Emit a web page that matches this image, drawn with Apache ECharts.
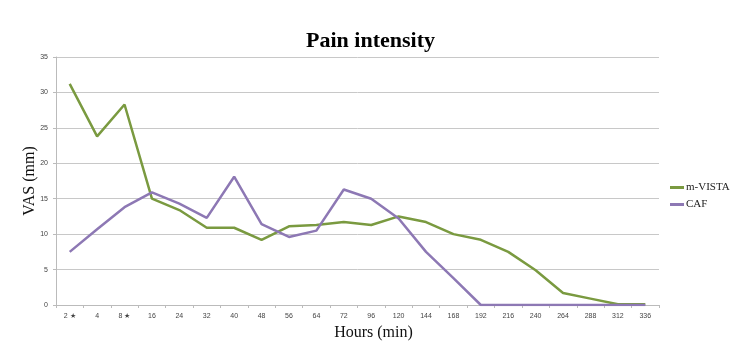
<!DOCTYPE html>
<html>
<head>
<meta charset="utf-8">
<script src="https://cdn.jsdelivr.net/npm/echarts@6/dist/echarts.min.js"></script>
<style>
html, body { margin: 0; padding: 0; background: #fff; }
#chart { width: 741px; height: 363px; }
</style>
</head>
<body>
<div id="chart"></div>
<script type="text/javascript">
var hours = ['2 ★', '4', '8 ★', '16', '24', '32', '40', '48', '56', '64', '72', '96',
             '120', '144', '168', '192', '216', '240', '264', '288', '312', '336'];
var vista = [31.2, 23.8, 28.3, 15.0, 13.4, 10.9, 10.9, 9.2, 11.1, 11.3, 11.7, 11.3,
             12.5, 11.7, 10.0, 9.2, 7.5, 4.9, 1.7, 0.9, 0.1, 0.1];
var caf = [7.5, 10.7, 13.8, 15.9, 14.3, 12.3, 18.1, 11.4, 9.6, 10.5, 16.3, 15.0,
           12.2, 7.5, 3.8, 0, 0, 0, 0, 0, 0, 0];

var myChart = echarts.init(document.getElementById('chart'), null, {renderer: 'canvas'});
var option = {
    backgroundColor: '#fff',
    animation: false,
    title: {
        text: 'Pain intensity',
        left: 'center',
        top: 25,
        textStyle: {
            fontFamily: 'Liberation Serif',
            fontWeight: 'bold',
            fontSize: 22,
            color: '#000'
        }
    },
    legend: {
        orient: 'vertical',
        left: 665,
        top: 177,
        itemWidth: 14,
        itemHeight: 3,
        itemGap: 6,
        icon: 'rect',
        textStyle: { fontFamily: 'Liberation Serif', fontSize: 11, color: '#222', padding: [0, 0, 0, -3] },
        data: ['m-VISTA', 'CAF']
    },
    grid: { left: 56, right: 82, top: 57, bottom: 58 },
    xAxis: {
        type: 'category',
        data: hours,
        boundaryGap: true,
        name: 'Hours (min)',
        nameLocation: 'middle',
        nameGap: 20,
        nameTextStyle: { fontFamily: 'Liberation Serif', fontSize: 16, color: '#111', padding: [0, 0, 0, 32] },
        axisLine: { lineStyle: { color: '#bbb' } },
        axisTick: { show: true, length: 3, lineStyle: { color: '#bbb' } },
        axisLabel: { fontSize: 7, color: '#444', margin: 8, interval: 0 }
    },
    yAxis: {
        type: 'value',
        min: 0,
        max: 35,
        interval: 5,
        name: 'VAS (mm)',
        nameLocation: 'middle',
        nameGap: 18,
        nameMoveOverlap: false,
        nameTextStyle: { fontFamily: 'Liberation Serif', fontSize: 16, color: '#111' },
        axisLine: { show: true, lineStyle: { color: '#bbb' } },
        axisTick: { show: true, length: 3, lineStyle: { color: '#bbb' } },
        axisLabel: { fontSize: 7, color: '#444', margin: 8 },
        splitLine: { lineStyle: { color: '#c8c8c8', width: 1 } }
    },
    series: [
        {
            name: 'm-VISTA',
            type: 'line',
            data: vista,
            symbol: 'none',
            color: '#7a9a40',
            lineStyle: { width: 2.5 }
        },
        {
            name: 'CAF',
            type: 'line',
            data: caf,
            symbol: 'none',
            color: '#8d78b4',
            lineStyle: { width: 2.5 }
        }
    ]
};
myChart.setOption(option);
</script>
</body>
</html>
